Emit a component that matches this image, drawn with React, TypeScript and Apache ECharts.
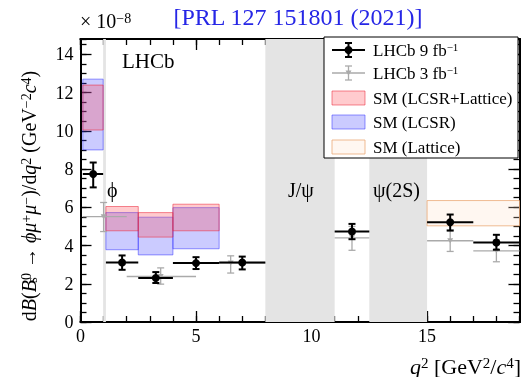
import React, { useEffect, useRef } from 'react';
import * as echarts from 'echarts';

const FONT = "Liberation Serif, DejaVu Serif, serif";

// Vetoed charmonium / phi regions in q^2
const vetoLo = [0.98, 8.0, 12.5];
const vetoHi = [1.1, 11.0, 15.0];

// LHCb 9 fb^-1 (units 1e-8)
const bin9Lo = [0.1, 1.1, 2.5, 4.0, 6.0, 11.0, 15.0, 17.0];
const bin9Hi = [0.98, 2.5, 4.0, 6.0, 8.0, 12.5, 17.0, 19.0];
const x9 = [0.55, 1.8, 3.26, 5.0, 7.0, 11.75, 16.0, 18.0];
const y9 = [7.74, 3.11, 2.30, 3.08, 3.11, 4.73, 5.22, 4.16];
const y9Lo = [7.04, 2.73, 2.04, 2.77, 2.75, 4.33, 4.78, 3.78];
const y9Hi = [8.34, 3.48, 2.61, 3.39, 3.42, 5.13, 5.62, 4.56];

// LHCb 3 fb^-1
const bin3Lo = [0.1, 2.0, 5.0, 11.0, 15.0, 17.0];
const bin3Hi = [2.0, 5.0, 8.0, 12.5, 17.0, 19.0];
const x3 = [1.0, 3.47, 6.5, 11.75, 16.0, 18.0];
const y3 = [5.51, 2.38, 3.08, 4.40, 4.25, 3.72];
const y3Lo = [4.73, 1.98, 2.56, 3.75, 3.69, 3.15];
const y3Hi = [6.25, 2.83, 3.46, 5.00, 4.82, 4.30];

// SM predictions
const smBinLo = [0.1, 1.1, 2.5, 4.0];
const smBinHi = [0.98, 2.5, 4.0, 6.0];
const lcsrLatLo = [10.04, 4.77, 4.44, 4.77];
const lcsrLatHi = [12.39, 6.04, 5.72, 6.16];
const lcsrLo = [9.0, 3.78, 3.51, 3.83];
const lcsrHi = [12.7, 5.72, 5.48, 5.98];
const latBinLo = [15.0];
const latBinHi = [19.0];
const latLo = [5.03];
const latHi = [6.35];

const X_MAX = 19;
const Y_MAX = 14.8;

function bandSeries(lo: number[], hi: number[], vLo: number[], vHi: number[], fill: string, stroke: string, z: number, lw = 1) {
  return {
    type: 'custom',
    z,
    silent: true,
    data: lo.map((l, i) => [l, hi[i], vLo[i], vHi[i]]),
    renderItem: (_p: any, api: any) => {
      const a = api.coord([api.value(0), api.value(3)]);
      const b = api.coord([api.value(1), api.value(2)]);
      return {
        type: 'rect',
        shape: { x: a[0], y: a[1], width: b[0] - a[0], height: b[1] - a[1] },
        style: { fill, stroke, lineWidth: lw },
      };
    },
  };
}

function errSeries(xs: number[], ys: number[], xl: number[], xh: number[], yl: number[], yh: number[], color: string, lw: number, marker: 'circle' | 'tri', z: number) {
  return {
    type: 'custom',
    z,
    silent: true,
    data: xs.map((x, i) => [x, ys[i], xl[i], xh[i], yl[i], yh[i]]),
    renderItem: (_p: any, api: any) => {
      const c = api.coord([api.value(0), api.value(1)]);
      const l = api.coord([api.value(2), api.value(1)]);
      const r = api.coord([api.value(3), api.value(1)]);
      const t = api.coord([api.value(0), api.value(5)]);
      const b = api.coord([api.value(0), api.value(4)]);
      const cap = 3.5;
      const style = { stroke: color, lineWidth: lw };
      const children: any[] = [
        { type: 'line', shape: { x1: l[0], y1: l[1], x2: r[0], y2: r[1] }, style },
        { type: 'line', shape: { x1: t[0], y1: t[1], x2: b[0], y2: b[1] }, style },
        { type: 'line', shape: { x1: t[0] - cap, y1: t[1], x2: t[0] + cap, y2: t[1] }, style },
        { type: 'line', shape: { x1: b[0] - cap, y1: b[1], x2: b[0] + cap, y2: b[1] }, style },
      ];
      if (marker === 'circle') {
        children.push({ type: 'circle', shape: { cx: c[0], cy: c[1], r: 4 }, style: { fill: color } });
      } else {
        children.push({
          type: 'polygon',
          shape: { points: [[c[0] - 3, c[1] - 2.5], [c[0] + 3, c[1] - 2.5], [c[0], c[1] + 2.5]] },
          style: { fill: color },
        });
      }
      return { type: 'group', children };
    },
  };
}

function vetoSeries() {
  return {
    type: 'custom',
    z: 1,
    silent: true,
    data: vetoLo.map((l, i) => [l, vetoHi[i]]),
    renderItem: (_p: any, api: any) => {
      const a = api.coord([api.value(0), Y_MAX]);
      const b = api.coord([api.value(1), 0]);
      return {
        type: 'rect',
        shape: { x: a[0], y: a[1], width: b[0] - a[0], height: b[1] - a[1] },
        style: { fill: '#e4e4e4' },
      };
    },
  };
}

const richBase = (s: number, r = 0.65) => ({
  i: { fontStyle: 'italic', fontSize: s, fontFamily: FONT },
  sup: { fontSize: Math.round(s * r), verticalAlign: 'top', fontFamily: FONT },
  sub: { fontSize: Math.round(s * r), verticalAlign: 'bottom', fontFamily: FONT },
  subw: { fontSize: Math.round(s * r), verticalAlign: 'bottom', fontFamily: FONT, width: 0.1 },
});

function txt(x: number, y: number, text: string, size: number, opts: any = {}) {
  return {
    type: 'text',
    x,
    y,
    z: 200,
    rotation: opts.rotation || 0,
    style: {
      text,
      fontSize: size,
      fontFamily: FONT,
      fill: opts.fill || '#000',
      align: opts.align || 'left',
      verticalAlign: 'middle',
      rich: richBase(size, opts.ratio || 0.65),
    },
  };
}

function axisCommon(pos: string, major: boolean, interval: number, max: number, labels: boolean) {
  return {
    type: 'value',
    min: 0,
    max,
    interval,
    position: pos,
    splitLine: { show: false },
    axisLine: { show: true, onZero: false, lineStyle: { color: '#000', width: 2 } },
    axisTick: { show: true, inside: true, length: major ? 11 : 6, lineStyle: { color: '#000', width: 1.3 } },
    axisLabel: {
      show: labels,
      color: '#000',
      fontSize: 18,
      fontFamily: FONT,
      margin: pos === 'bottom' ? 5 : 7,
      showMaxLabel: false,
    },
  };
}

export default function App() {
  const ref = useRef<HTMLDivElement>(null);
  useEffect(() => {
    if (!ref.current) return;
    const chart = echarts.init(ref.current, null, { renderer: 'svg' });
    const L = 324, T = 37;
    const legend = [
      { type: 'rect', z: 150, shape: { x: L, y: T, width: 194, height: 121 }, style: { fill: '#fff', stroke: '#000', lineWidth: 1 } },
      // entry 1
      { type: 'line', z: 160, shape: { x1: 332, y1: 50, x2: 365, y2: 50 }, style: { stroke: '#000', lineWidth: 2 } },
      { type: 'line', z: 160, shape: { x1: 348.5, y1: 43, x2: 348.5, y2: 57 }, style: { stroke: '#000', lineWidth: 2 } },
      { type: 'line', z: 160, shape: { x1: 345, y1: 43, x2: 352, y2: 43 }, style: { stroke: '#000', lineWidth: 2 } },
      { type: 'line', z: 160, shape: { x1: 345, y1: 57, x2: 352, y2: 57 }, style: { stroke: '#000', lineWidth: 2 } },
      { type: 'circle', z: 160, shape: { cx: 348.5, cy: 50, r: 4 }, style: { fill: '#000' } },
      // entry 2
      { type: 'line', z: 160, shape: { x1: 332, y1: 73, x2: 365, y2: 73 }, style: { stroke: '#aaa', lineWidth: 1.3 } },
      { type: 'line', z: 160, shape: { x1: 348.5, y1: 66, x2: 348.5, y2: 80 }, style: { stroke: '#aaa', lineWidth: 1.3 } },
      { type: 'line', z: 160, shape: { x1: 345, y1: 66, x2: 352, y2: 66 }, style: { stroke: '#aaa', lineWidth: 1.3 } },
      { type: 'line', z: 160, shape: { x1: 345, y1: 80, x2: 352, y2: 80 }, style: { stroke: '#aaa', lineWidth: 1.3 } },
      { type: 'polygon', z: 160, shape: { points: [[345.5, 70.5], [351.5, 70.5], [348.5, 75.5]] }, style: { fill: '#aaa' } },
      // entries 3-5
      { type: 'rect', z: 160, shape: { x: 332, y: 91, width: 33, height: 14 }, style: { fill: 'rgba(255,70,80,0.28)', stroke: 'rgba(235,40,60,0.55)', lineWidth: 1 } },
      { type: 'rect', z: 160, shape: { x: 332, y: 115, width: 33, height: 14 }, style: { fill: 'rgba(70,70,255,0.28)', stroke: 'rgba(60,60,255,0.55)', lineWidth: 1 } },
      { type: 'rect', z: 160, shape: { x: 332, y: 140, width: 33, height: 14 }, style: { fill: 'rgba(255,225,200,0.25)', stroke: 'rgba(235,170,120,0.8)', lineWidth: 1 } },
      txt(373, 50, 'LHCb 9 fb{sup|−1}', 17),
      txt(373, 73, 'LHCb 3 fb{sup|−1}', 17),
      txt(373, 98, 'SM (LCSR+Lattice)', 17),
      txt(373, 122, 'SM (LCSR)', 17),
      txt(373, 147, 'SM (Lattice)', 17),
    ];
    const option: any = {
      animation: false,
      textStyle: { fontFamily: FONT },
      grid: { left: 80.5, right: 2.5, top: 39, bottom: 55 },
      xAxis: [
        axisCommon('bottom', true, 5, X_MAX, true),
        axisCommon('bottom', false, 1, X_MAX, false),
        axisCommon('top', true, 5, X_MAX, false),
        axisCommon('top', false, 1, X_MAX, false),
      ],
      yAxis: [
        axisCommon('left', true, 2, Y_MAX, true),
        axisCommon('left', false, 0.5, Y_MAX, false),
        axisCommon('right', true, 2, Y_MAX, false),
        axisCommon('right', false, 0.5, Y_MAX, false),
      ],
      series: [
        vetoSeries(),
        bandSeries(smBinLo, smBinHi, lcsrLo, lcsrHi, 'rgba(70,70,255,0.28)', 'rgba(60,60,255,0.55)', 2),
        bandSeries(smBinLo, smBinHi, lcsrLatLo, lcsrLatHi, 'rgba(255,70,80,0.28)', 'rgba(235,40,60,0.55)', 3),
        bandSeries(latBinLo, latBinHi, latLo, latHi, 'rgba(255,225,200,0.25)', 'rgba(235,170,120,0.8)', 3),
        errSeries(x3, y3, bin3Lo, bin3Hi, y3Lo, y3Hi, '#aaa', 1.3, 'tri', 4),
        errSeries(x9, y9, bin9Lo, bin9Hi, y9Lo, y9Hi, '#000', 2, 'circle', 5),
      ],
      graphic: [
        txt(298, 17, '[PRL 127 151801 (2021)]', 24, { fill: '#2626e6', align: 'center' }),
        txt(80, 21, '× 10{sup|−8}', 20, { ratio: 0.7 }),
        txt(122, 61, 'LHCb', 21),
        txt(107, 190, 'ϕ', 20),
        txt(288, 190, 'J/ψ', 20),
        txt(373, 190, 'ψ(2S)', 20),
        txt(521, 366, '{i|q}{sup|2} [GeV{sup|2}/{i|c}{sup|4}]', 22, { align: 'right', ratio: 0.7 }),
        txt(29, 196, 'd{i|B}({i|B}{subw|s}{sup|0} → {i|ϕμ}{sup|+}{i|μ}{sup|−})/d{i|q}{sup|2} (GeV{sup|−2}{i|c}{sup|4})', 20, { align: 'center', rotation: Math.PI / 2, ratio: 0.68 }),
        ...legend,
      ],
    };
    chart.setOption(option);
    return () => chart.dispose();
  }, []);
  return <div ref={ref} style={{ position: 'fixed', left: 0, top: 0, width: 522, height: 377 }} />;
}
